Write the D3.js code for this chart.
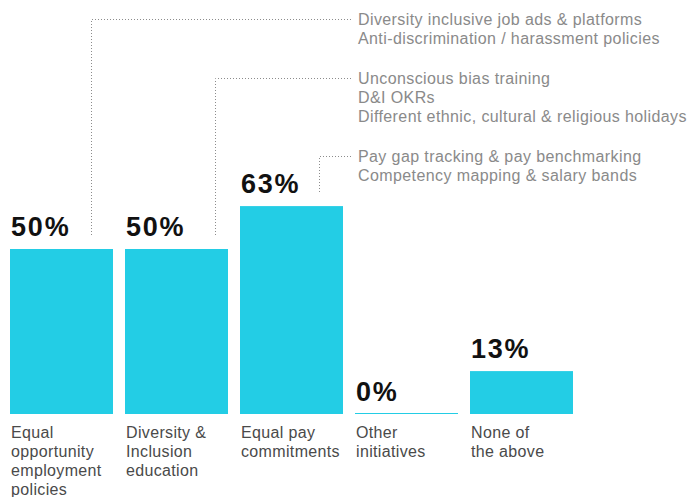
<!DOCTYPE html>
<html>
<head>
<meta charset="utf-8">
<script src="https://cdn.jsdelivr.net/npm/d3@7"></script>
<style>
  html, body { margin: 0; padding: 0; background: #fff; }
  svg { display: block; }
</style>
</head>
<body>
<svg id="chart" width="691" height="497"></svg>
<script>
// Share of companies running each diversity initiative
const categoryLines = [
  ["Equal", "opportunity", "employment", "policies"],
  ["Diversity &", "Inclusion", "education"],
  ["Equal pay", "commitments"],
  ["Other", "initiatives"],
  ["None of", "the above"]
];
const values = [50, 50, 63, 0, 13];

// Examples listed beside the first three initiatives
const calloutBar = [0, 1, 2];
const calloutLines = [
  ["Diversity inclusive job ads & platforms", "Anti-discrimination / harassment policies"],
  ["Unconscious bias training", "D&I OKRs", "Different ethnic, cultural & religious holidays"],
  ["Pay gap tracking & pay benchmarking", "Competency mapping & salary bands"]
];

// Layout constants
const barColor = "#23cde5";
const baseY = 414;
const calloutAnchor = [0.79, 0.87, 0.77]; // where each leader line drops, as a share of bar width
const textX = 358, leaderEnd = 351;
const lineH = 19;
const font = "'Liberation Sans', Arial, sans-serif";

const svg = d3.select("#chart");

const idx = values.map((d, i) => i);
const x = d3.scaleBand().domain(idx).range([10, 573]).paddingInner(0.1043).paddingOuter(0);
const y = d3.scaleLinear().domain([0, 100]).range([baseY, baseY - 330]);

// Bars (a zero value still shows a hairline)
svg.append("g").selectAll("rect").data(idx).join("rect")
  .attr("x", i => Math.round(x(i)))
  .attr("width", Math.round(x.bandwidth()))
  .attr("y", i => Math.min(y(values[i]), baseY - 1))
  .attr("height", i => Math.max(baseY - y(values[i]), 1))
  .attr("fill", barColor);

// Value labels
const labelGap = 13;
const labelY = i => y(values[i]) - labelGap;
svg.append("g").selectAll("text").data(idx).join("text")
  .attr("x", i => x(i) + 1)
  .attr("y", labelY)
  .attr("font-family", font)
  .attr("font-weight", 700)
  .attr("font-size", 27)
  .attr("letter-spacing", 1.8)
  .attr("fill", "#111")
  .text(i => d3.format(".0f")(values[i]) + "%");

// Category labels
const cat = svg.append("g").selectAll("text").data(idx).join("text")
  .attr("x", i => x(i) + 1)
  .attr("y", baseY + 24)
  .attr("font-family", font)
  .attr("font-size", 16)
  .attr("letter-spacing", 0.35)
  .attr("fill", "#4a4a4a");
cat.selectAll("tspan").data(i => categoryLines[i]).join("tspan")
  .attr("x", function() { return this.parentNode.getAttribute("x"); })
  .attr("dy", (d, j) => j === 0 ? 0 : lineH)
  .text(d => d);

// Callouts: stacked text blocks with dotted leader lines down to each value label
let baseline = 25;
const callouts = svg.append("g");
calloutLines.forEach((lines, k) => {
  const bi = calloutBar[k];
  const ax = Math.round(x(bi) + x.bandwidth() * calloutAnchor[k]) + 0.5;
  const hy = Math.round(baseline - 6) + 0.5;
  const bottom = labelY(bi);
  callouts.append("path")
    .attr("d", `M${leaderEnd},${hy}H${ax}V${bottom}`)
    .attr("fill", "none")
    .attr("stroke", "#8c8c8c")
    .attr("stroke-width", 1)
    .attr("stroke-dasharray", "1 2");
  const t = callouts.append("text")
    .attr("x", textX)
    .attr("y", baseline)
    .attr("font-family", font)
    .attr("font-size", 16)
    .attr("letter-spacing", 0.4)
    .attr("fill", "#8a8a8a");
  t.selectAll("tspan").data(lines).join("tspan")
    .attr("x", textX)
    .attr("dy", (d, j) => j === 0 ? 0 : lineH)
    .text(d => d);
  baseline += (lines.length + 1) * lineH + 2;
});
</script>
</body>
</html>
